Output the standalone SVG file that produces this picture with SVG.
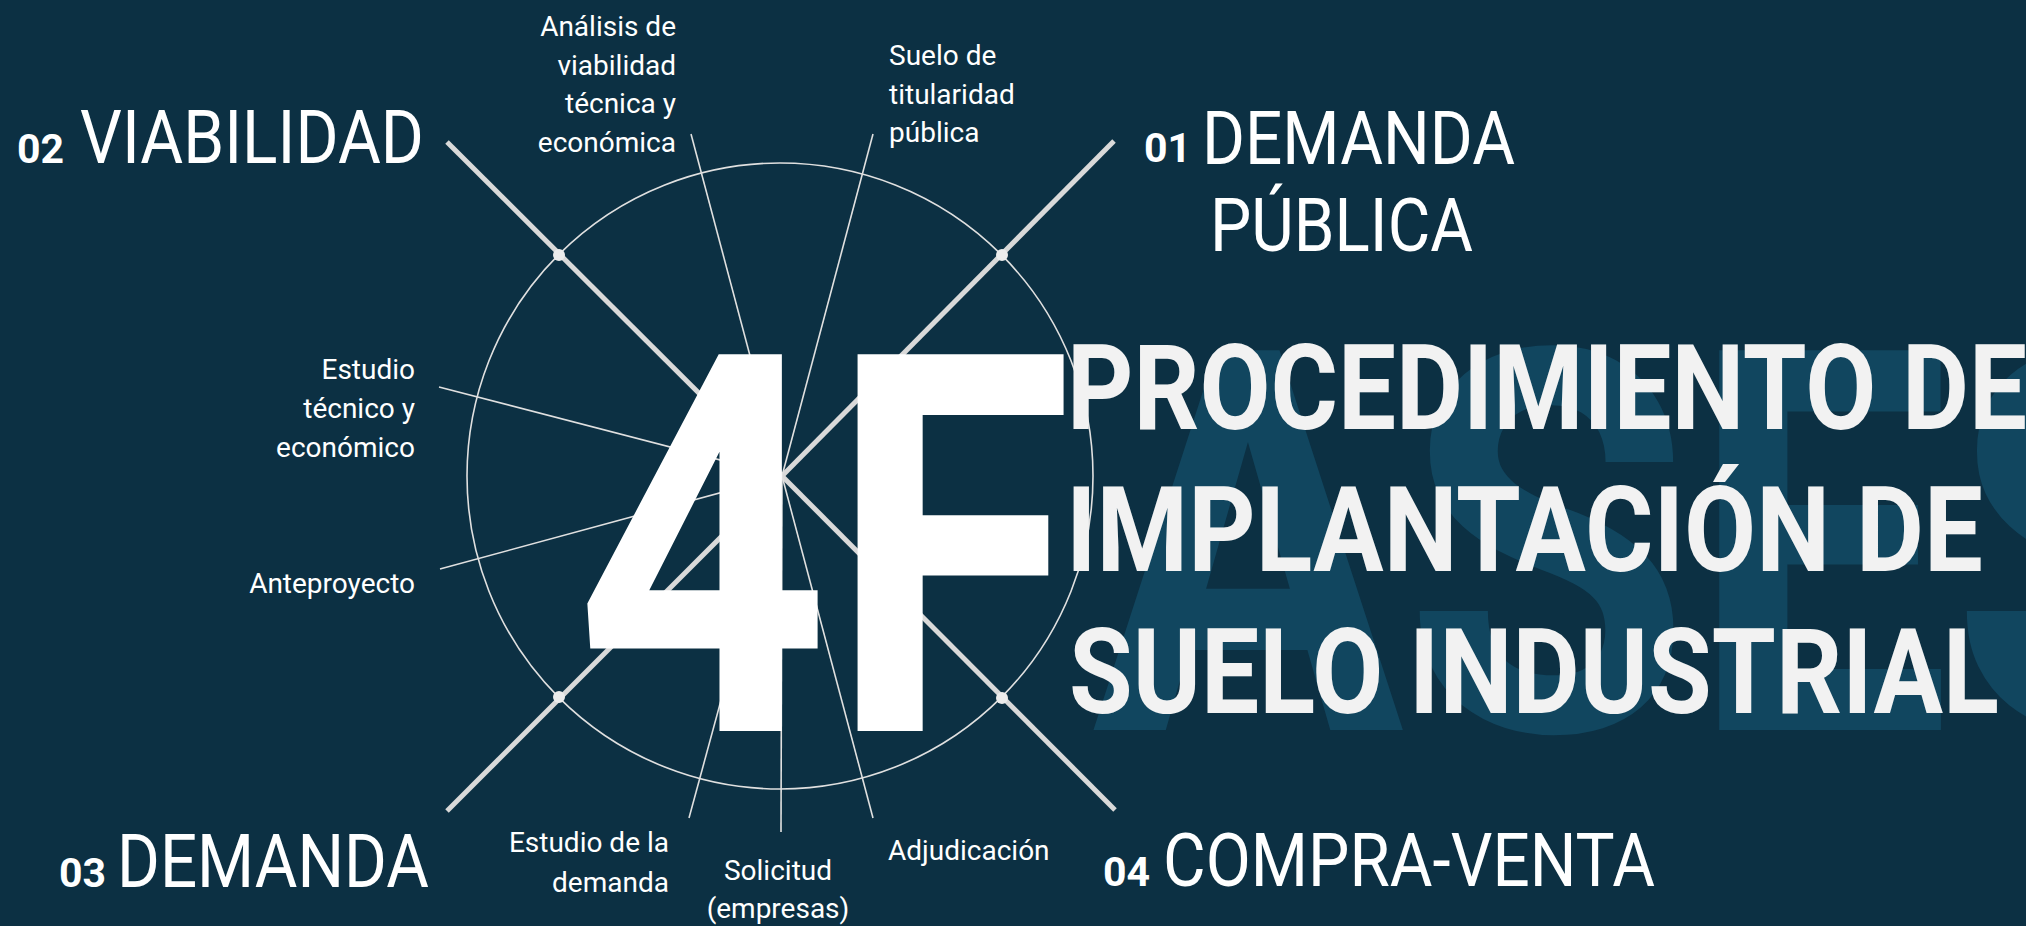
<svg xmlns="http://www.w3.org/2000/svg" width="2026" height="926" viewBox="0 0 2026 926">
<style>
.lbl{font-family:Roboto,"Liberation Sans",sans-serif;font-size:28px;fill:#ffffff}
.big{font-family:Roboto,"Liberation Sans",sans-serif;font-size:75px;font-weight:400;fill:#ffffff}
.num{font-family:Roboto,"Liberation Sans",sans-serif;font-size:41px;font-weight:700;fill:#ffffff}
.title{font-family:Roboto,"Liberation Sans",sans-serif;font-size:118px;font-weight:700;fill:#f2f2f2}
.thick{stroke:#d9d9d9;stroke-width:5;fill:none}
.thin{stroke:#e0e0e0;stroke-width:1.6;fill:none}
.dot{fill:#ececec}
</style>
<rect x="0" y="0" width="2026" height="926" fill="#0c3043"/>
<text x="1092" y="730" font-family="Roboto,'Liberation Sans',sans-serif" font-size="534" font-weight="700" fill="#11465f" textLength="1145" lengthAdjust="spacingAndGlyphs">ASES</text>
<g id="ring">
<circle cx="780" cy="476" r="313" class="thin" stroke-width="2"/>
</g>
<g id="connectors">
<line x1="447" y1="142" x2="782" y2="476" class="thick"/>
<line x1="1114" y1="141" x2="782" y2="476" class="thick"/>
<line x1="447" y1="811" x2="782" y2="476" class="thick"/>
<line x1="1115" y1="810" x2="782" y2="476" class="thick"/>
<line x1="691" y1="134" x2="782" y2="476" class="thin"/>
<line x1="873" y1="134" x2="782" y2="476" class="thin"/>
<line x1="439" y1="387" x2="782" y2="476" class="thin"/>
<line x1="440" y1="569" x2="782" y2="476" class="thin"/>
<line x1="689" y1="818" x2="782" y2="476" class="thin"/>
<line x1="781" y1="832" x2="782" y2="476" class="thin"/>
<line x1="873" y1="818" x2="782" y2="476" class="thin"/>
<circle cx="559" cy="255" r="6" class="dot"/>
<circle cx="1002" cy="255" r="6" class="dot"/>
<circle cx="559" cy="697" r="6" class="dot"/>
<circle cx="1002" cy="698" r="6" class="dot"/>
</g>
<g id="center-4F">
<text x="575" y="731" font-family="Roboto,'Liberation Sans',sans-serif" font-size="530" font-weight="700" fill="#ffffff" textLength="498" lengthAdjust="spacingAndGlyphs">4F</text>
</g>
<g id="title">
<text class="title" x="1067" y="429" textLength="960" lengthAdjust="spacingAndGlyphs">PROCEDIMIENTO DE</text>
<text class="title" x="1066" y="571" textLength="917" lengthAdjust="spacingAndGlyphs">IMPLANTACIÓN DE</text>
<text class="title" x="1069" y="713" textLength="930" lengthAdjust="spacingAndGlyphs">SUELO INDUSTRIAL</text>
</g>
<g id="phase-01">
<text class="num" x="1144" y="162">01</text>
<text class="big" x="1202" y="164" textLength="313" lengthAdjust="spacingAndGlyphs">DEMANDA</text>
<text class="big" x="1210" y="251" textLength="263" lengthAdjust="spacingAndGlyphs">PÚBLICA</text>
</g>
<g id="phase-02">
<text class="num" x="17" y="163">02</text>
<text class="big" x="80" y="163" textLength="344" lengthAdjust="spacingAndGlyphs">VIABILIDAD</text>
</g>
<g id="phase-03">
<text class="num" x="59" y="887">03</text>
<text class="big" x="117" y="887" textLength="312" lengthAdjust="spacingAndGlyphs">DEMANDA</text>
</g>
<g id="phase-04">
<text class="num" x="1103" y="886">04</text>
<text class="big" x="1163" y="886" textLength="492" lengthAdjust="spacingAndGlyphs">COMPRA-VENTA</text>
</g>
<g id="label-analisis" text-anchor="end">
<text class="lbl" x="676" y="36">Análisis de</text>
<text class="lbl" x="676" y="75">viabilidad</text>
<text class="lbl" x="676" y="113">técnica y</text>
<text class="lbl" x="676" y="152">económica</text>
</g>
<g id="label-suelo">
<text class="lbl" x="889" y="65">Suelo de</text>
<text class="lbl" x="889" y="104">titularidad</text>
<text class="lbl" x="889" y="142">pública</text>
</g>
<g id="label-estudio-tecnico" text-anchor="end">
<text class="lbl" x="415" y="379">Estudio</text>
<text class="lbl" x="415" y="418">técnico y</text>
<text class="lbl" x="415" y="457">económico</text>
</g>
<g id="label-anteproyecto" text-anchor="end">
<text class="lbl" x="415" y="593">Anteproyecto</text>
</g>
<g id="label-estudio-demanda" text-anchor="end">
<text class="lbl" x="669" y="852">Estudio de la</text>
<text class="lbl" x="669" y="892">demanda</text>
</g>
<g id="label-solicitud" text-anchor="middle">
<text class="lbl" x="778" y="880">Solicitud</text>
<text class="lbl" x="778" y="918">(empresas)</text>
</g>
<g id="label-adjudicacion">
<text class="lbl" x="888" y="860">Adjudicación</text>
</g>
</svg>
